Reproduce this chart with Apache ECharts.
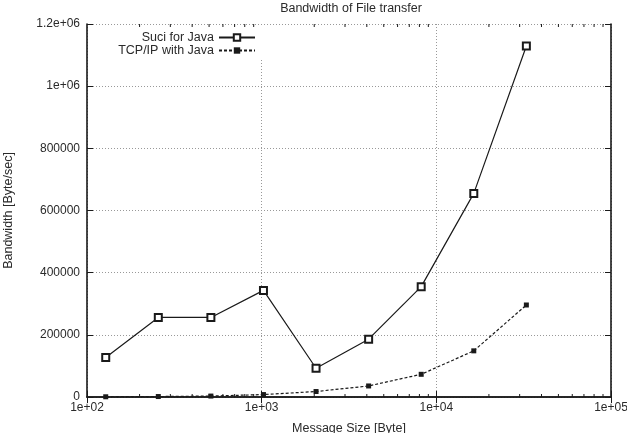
<!DOCTYPE html>
<html><head><meta charset="utf-8">
<script src="https://cdn.jsdelivr.net/npm/echarts@6/dist/echarts.min.js"></script>
<style>html,body{margin:0;padding:0;background:#fff}#c{width:627px;height:433px}</style>
</head><body><div id="c"></div>
<script>
const messageSizes = [128, 256, 512, 1024, 2048, 4096, 8192, 16384, 32768];
const suciJava = [127000, 256000, 256000, 343000, 92500, 186000, 355000, 655000, 1129000];
const tcpJava = [700, 1500, 3000, 7800, 17600, 35500, 73000, 148500, 296000];
const xMinorTicks = [200,300,400,500,600,700,800,900,2000,3000,4000,5000,6000,7000,8000,9000,20000,30000,40000,50000,60000,70000,80000,90000];
const FONT = 'Liberation Sans';
const INK = '#1a1a1a';
const TXT = '#2a2a2a';

const chart = echarts.init(document.getElementById('c'), null, {renderer: 'canvas'});
function xLabel(v){ return '1e+0' + Math.round(Math.log10(v)); }
function yLabel(v){
  if (v === 0) return '0';
  if (v >= 1000000) { const m = v / 1000000; return (m === 1 ? '1' : String(m)) + 'e+06'; }
  return String(v);
}
const gridLine = {show: true, lineStyle: {color: '#999', type: [1, 2], width: 1}};
const axisLine = {show: true, lineStyle: {color: INK, width: 1.6}};

chart.setOption({
  animation: false,
  backgroundColor: '#fff',
  title: {text: 'Bandwidth of File transfer', left: 346, textAlign: 'center', top: -3,
    textStyle: {fontFamily: FONT, fontSize: 12.5, fontWeight: 'normal', color: TXT}},
  grid: {left: 87, right: 16, top: 24, bottom: 36, outerBoundsMode: 'none', containLabel: false},
  legend: {
    orient: 'vertical', right: 363, top: 27, align: 'right', itemGap: 0,
    itemWidth: 36, itemHeight: 8, padding: [4, 8, 1, 4], backgroundColor: '#fff',
    textStyle: {fontFamily: FONT, fontSize: 12.5, color: TXT, lineHeight: 13},
    data: ['Suci for Java', 'TCP/IP with Java']
  },
  xAxis: [{
    type: 'log', logBase: 10, min: 100, max: 100000,
    name: 'Message Size [Byte]', nameLocation: 'middle', nameGap: 25,
    nameTextStyle: {fontFamily: FONT, fontSize: 12.5, color: TXT},
    axisLine: axisLine,
    axisTick: {show: true, inside: true, length: 6, lineStyle: {color: INK}},
    axisLabel: {formatter: xLabel, fontFamily: FONT, fontSize: 12, color: TXT, margin: 5},
    splitLine: gridLine
  }, {
    type: 'log', logBase: 10, min: 100, max: 100000, position: 'top',
    axisLine: axisLine,
    axisTick: {show: true, inside: true, length: 6, lineStyle: {color: INK}},
    axisLabel: {show: false}, splitLine: {show: false}
  }],
  yAxis: [{
    type: 'value', min: 0, max: 1200000, interval: 200000,
    name: 'Bandwidth [Byte/sec]', nameLocation: 'middle', nameGap: 72, nameRotate: 90,
    nameTextStyle: {fontFamily: FONT, fontSize: 12.5, color: TXT},
    axisLine: axisLine,
    axisTick: {show: true, inside: true, length: 6, lineStyle: {color: INK}},
    axisLabel: {formatter: yLabel, fontFamily: FONT, fontSize: 12, color: TXT, margin: 7},
    splitLine: gridLine
  }, {
    type: 'value', min: 0, max: 1200000, interval: 200000, position: 'right',
    axisLine: axisLine,
    axisTick: {show: true, inside: true, length: 6, lineStyle: {color: INK}},
    axisLabel: {show: false}, splitLine: {show: false}
  }],
  series: [{
    name: 'Suci for Java', type: 'line',
    data: messageSizes.map((x, i) => [x, suciJava[i]]),
    symbol: 'emptyRect', symbolSize: 7, color: INK, showAllSymbol: true,
    lineStyle: {color: INK, width: 1.2, type: 'solid'},
    itemStyle: {color: INK, borderWidth: 1}, z: 3
  }, {
    name: 'TCP/IP with Java', type: 'line',
    data: messageSizes.map((x, i) => [x, tcpJava[i]]),
    symbol: 'rect', symbolSize: 5, color: INK, showAllSymbol: true,
    lineStyle: {color: INK, width: 1.2, type: [3, 2]},
    itemStyle: {color: INK}, z: 3
  }, {
    name: 'minorTicks', type: 'custom', silent: true, z: 2,
    data: xMinorTicks.map(v => [v]),
    renderItem: function (params, api) {
      const p0 = api.coord([api.value(0), 0]);
      const p1 = api.coord([api.value(0), 1200000]);
      const st = {stroke: INK, lineWidth: 1};
      return {type: 'group', children: [
        {type: 'line', shape: {x1: p0[0], y1: p0[1], x2: p0[0], y2: p0[1] - 3}, style: st},
        {type: 'line', shape: {x1: p1[0], y1: p1[1], x2: p1[0], y2: p1[1] + 3}, style: st}
      ]};
    }
  }]
});
</script></body></html>
